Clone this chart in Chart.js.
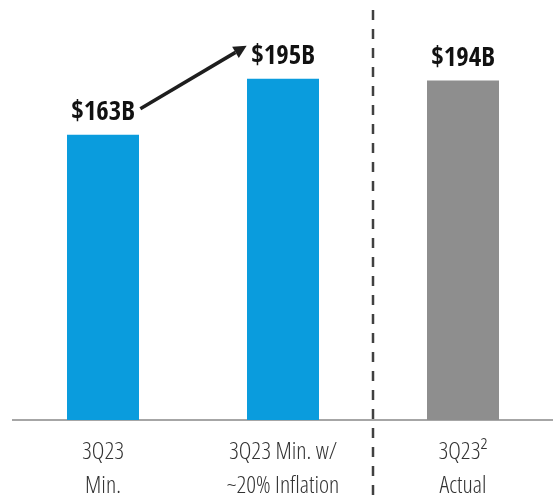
<!DOCTYPE html>
<html><head><meta charset="utf-8">
<script src="https://cdn.jsdelivr.net/npm/chart.js@4/dist/chart.umd.min.js"></script>
<style>html,body{margin:0;padding:0;background:#fff}</style>
</head><body>
<canvas id="c" width="553" height="500"></canvas>
<script>
const categories = [["3Q23","Min."],["3Q23 Min. w/","~20% Inflation"],["3Q23\u00B2","Actual"]];
const values = [163,195,194];
const valueLabels = ["$163B","$195B","$194B"];
const barColors = ["#0A9CDD","#0A9CDD","#8E8E8E"];

const overlay = {
  id:'overlay',
  afterDatasetsDraw(chart){
    const ctx = chart.ctx;
    const meta = chart.getDatasetMeta(0);
    const xs = chart.scales.x;
    const sx = (xs.getPixelForValue(1) + xs.getPixelForValue(2)) / 2;
    ctx.save();
    ctx.strokeStyle = '#404040';
    ctx.lineWidth = 2.5;
    ctx.setLineDash([10, 9]);
    ctx.beginPath();
    ctx.moveTo(sx, 10);
    ctx.lineTo(sx, chart.height);
    ctx.stroke();
    ctx.restore();
    ctx.save();
    ctx.font = 'bold 27px "Open Sans Condensed", "Roboto Condensed", sans-serif';
    ctx.fillStyle = '#111';
    ctx.textAlign = 'center';
    ctx.textBaseline = 'alphabetic';
    const boxes = [];
    meta.data.forEach((b, i) => {
      const y = b.y - 15;
      ctx.fillText(valueLabels[i], b.x, y);
      const w = ctx.measureText(valueLabels[i]).width;
      boxes.push({l: b.x - w/2, r: b.x + w/2, y});
    });
    ctx.restore();
    const a = boxes[0], c = boxes[1];
    const x1 = a.r + 5.5, y1 = a.y - 11;
    const x2 = c.l - 4.5, y2 = c.y - 18;
    const ang = Math.atan2(y2 - y1, x2 - x1);
    const headLen = 13, headW = 6.5;
    const bx = x2 - headLen * Math.cos(ang), by = y2 - headLen * Math.sin(ang);
    ctx.save();
    ctx.strokeStyle = '#1e1e1e';
    ctx.fillStyle = '#1e1e1e';
    ctx.lineWidth = 3.5;
    ctx.beginPath();
    ctx.moveTo(x1, y1);
    ctx.lineTo(bx, by);
    ctx.stroke();
    ctx.beginPath();
    ctx.moveTo(x2, y2);
    ctx.lineTo(bx + headW * Math.sin(ang), by - headW * Math.cos(ang));
    ctx.lineTo(bx - headW * Math.sin(ang), by + headW * Math.cos(ang));
    ctx.closePath();
    ctx.fill();
    ctx.restore();
  }
};

new Chart(document.getElementById('c'), {
  type: 'bar',
  data: {
    labels: categories,
    datasets: [{
      data: values,
      backgroundColor: barColors,
      borderWidth: 0,
      barPercentage: 0.4,
      categoryPercentage: 1.0
    }]
  },
  options: {
    responsive: false,
    animation: false,
    layout: { padding: { left: 13, right: 0, top: 0, bottom: 0 } },
    plugins: { legend: { display: false }, tooltip: { enabled: false } },
    scales: {
      x: {
        offset: true,
        grid: { display: false, drawTicks: false },
        border: { display: true, color: '#A6A6A6', width: 2 },
        ticks: {
          color: '#333',
          font: { family: '"Open Sans", "Roboto Condensed", sans-serif', weight: '350 condensed', size: 24, lineHeight: 1.38 },
          padding: 16,
          maxRotation: 0,
          autoSkip: false
        },
        afterFit(s) { s.height = 80; }
      },
      y: { display: false, min: 0, max: 240 }
    }
  },
  plugins: [overlay]
});
</script>
</body></html>
